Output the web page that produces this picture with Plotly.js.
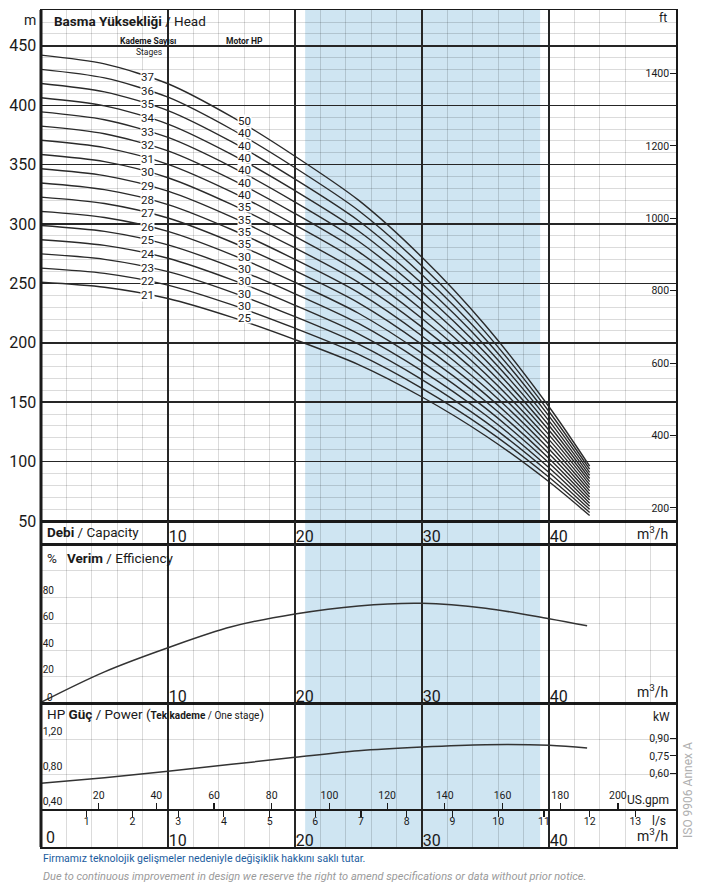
<!DOCTYPE html>
<html><head><meta charset="utf-8">
<script src="https://cdn.plot.ly/plotly-3.0.1.min.js"></script>
<style>html,body{margin:0;padding:0;background:#fff}#chart{width:703px;height:890px}</style>
</head><body><div id="chart"></div>
<script>
// ---- data ----
const flow = [0, 5, 10, 15, 20, 25, 30, 35, 40, 43.2];           // m3/h
const head37 = [442.2, 434.8, 418.1, 390.4, 357.1, 320.1, 272.0, 214.6, 146.2, 96.2];
const head36 = [430.2, 423.0, 406.8, 379.8, 347.4, 311.4, 264.6, 208.8, 142.2, 93.6];
const head35 = [418.3, 411.3, 395.5, 369.3, 337.8, 302.8, 257.3, 203.0, 138.3, 91.0];
const head34 = [406.3, 399.5, 384.2, 358.7, 328.1, 294.1, 249.9, 197.2, 134.3, 88.4];
const head33 = [394.4, 387.8, 372.9, 348.2, 318.5, 285.5, 242.6, 191.4, 130.4, 85.8];
const head32 = [382.4, 376.0, 361.6, 337.6, 308.8, 276.8, 235.2, 185.6, 126.4, 83.2];
const head31 = [370.5, 364.3, 350.3, 327.1, 299.2, 268.2, 227.9, 179.8, 122.5, 80.6];
const head30 = [358.5, 352.5, 339.0, 316.5, 289.5, 259.5, 220.5, 174.0, 118.5, 78.0];
const head29 = [346.6, 340.8, 327.7, 306.0, 279.9, 250.9, 213.2, 168.2, 114.6, 75.4];
const head28 = [334.6, 329.0, 316.4, 295.4, 270.2, 242.2, 205.8, 162.4, 110.6, 72.8];
const head27 = [322.7, 317.3, 305.1, 284.9, 260.6, 233.6, 198.5, 156.6, 106.7, 70.2];
const head26 = [310.7, 305.5, 293.8, 274.3, 250.9, 224.9, 191.1, 150.8, 102.7, 67.6];
const head25 = [298.8, 293.8, 282.5, 263.8, 241.3, 216.3, 183.8, 145.0, 98.8, 65.0];
const head24 = [286.8, 282.0, 271.2, 253.2, 231.6, 207.6, 176.4, 139.2, 94.8, 62.4];
const head23 = [274.9, 270.3, 259.9, 242.7, 222.0, 199.0, 169.1, 133.4, 90.9, 59.8];
const head22 = [262.9, 258.5, 248.6, 232.1, 212.3, 190.3, 161.7, 127.6, 86.9, 57.2];
const head21 = [251.0, 246.8, 237.3, 221.6, 202.7, 181.7, 154.4, 121.8, 83.0, 54.6];
const headCurves = [head37, head36, head35, head34, head33, head32, head31, head30, head29,
                    head28, head27, head26, head25, head24, head23, head22, head21];
const stages = [37, 36, 35, 34, 33, 32, 31, 30, 29, 28, 27, 26, 25, 24, 23, 22, 21];
const motorHP = [50, 40, 40, 40, 40, 40, 40, 35, 35, 35, 35, 30, 30, 30, 30, 30, 25];

const effFlow = [0, 5, 10, 15, 20, 25, 30, 35, 40, 43];
const efficiency = [0.5, 23.5, 41.7, 57.5, 67.2, 73.3, 75.2, 71.5, 63.6, 58.3];   // %

const powFlow = [0, 5, 10, 15, 20, 25, 30, 35, 40, 43];
const powerHP = [0.694, 0.758, 0.83, 0.91, 0.991, 1.066, 1.109, 1.135, 1.128, 1.097]; // HP, one stage

const headTicks = [50, 100, 150, 200, 250, 300, 350, 400, 450];
const ftTicks = [200, 400, 600, 800, 1000, 1200, 1400];
const effTicks = [0, 20, 40, 60, 80, 100];
const effLabels = ['', '20', '40', '60', '80', ''];
const hpTicks = [0.4, 0.8, 1.2];
const hpLabels = ['0,40', '0,80', '1,20'];
const kwTicks = [0.6, 0.75, 0.9];
const kwLabels = ['0,60', '0,75', '0,90'];
const gpmTicks = [20, 40, 60, 80, 100, 120, 140, 160, 180, 200];
const lsTicks = [1, 2, 3, 4, 5, 6, 7, 8, 9, 10, 11, 12, 13];
const m3Ticks = [10, 20, 30, 40];
const shadeFrom = 20.8, shadeTo = 39.3;   // m3/h

// ---- styling ----
const FONT = 'Roboto, Liberation Sans, sans-serif';
const BLACK = '#1a1a1a';
const MAJOR = '#262626';
const MINOR = 'rgba(0,0,0,0.14)';
const QMAX = 50;
const M_PER_FT = 0.3048, KW_PER_HP = 0.7457, GPM_PER_M3H = 4.402868, M3H_PER_LS = 3.6;

const headRange = [50, 480.2];
const effRange = [0, 120];
const hpRange = [-0.0343, 1.6114];

function interp(xs, ys, x) {
  for (let i = 0; i < xs.length - 1; i++) {
    if (x >= xs[i] && x <= xs[i + 1]) {
      const t = (x - xs[i]) / (xs[i + 1] - xs[i]);
      return ys[i] + t * (ys[i + 1] - ys[i]);
    }
  }
  return ys[ys.length - 1];
}

const lineStyle = {color: '#2a2a2a', width: 1.4, shape: 'spline', smoothing: 0.8};
const traces = [];
headCurves.forEach((ys, i) => traces.push({
  type: 'scatter', mode: 'lines', x: flow, y: ys, xaxis: 'x', yaxis: 'y',
  name: stages[i] + ' stages', line: lineStyle, hoverinfo: 'skip', showlegend: false
}));
traces.push({type: 'scatter', mode: 'lines', x: effFlow, y: efficiency, xaxis: 'x3', yaxis: 'y4',
  line: {color: '#333', width: 1.5, shape: 'spline', smoothing: 1}, hoverinfo: 'skip', showlegend: false});
traces.push({type: 'scatter', mode: 'lines', x: powFlow, y: powerHP, xaxis: 'x4', yaxis: 'y5',
  line: {color: '#333', width: 1.5, shape: 'spline', smoothing: 1}, hoverinfo: 'skip', showlegend: false});
[['x', 'y2'], ['x2', 'y3'], ['x4', 'y6'], ['x5', 'y5'], ['x6', 'y5']].forEach(p => traces.push({
  type: 'scatter', mode: 'lines', x: [], y: [], xaxis: p[0], yaxis: p[1], hoverinfo: 'skip', showlegend: false}));

function xGrid(extra) {
  return Object.assign({
    range: [0, QMAX], tickmode: 'array', tickvals: m3Ticks, showgrid: true, gridcolor: MAJOR, gridwidth: 1.5,
    minor: {tickmode: 'linear', tick0: 0, dtick: 2, showgrid: true, gridcolor: MINOR, gridwidth: 1},
    showline: true, mirror: true, linecolor: BLACK, linewidth: 1.5, zeroline: false, ticks: '',
    fixedrange: true, tickfont: {size: 16, color: BLACK}, ticklabelposition: 'inside right',
    ticklabelstandoff: -5
  }, extra);
}
function yBase(extra) {
  return Object.assign({
    showline: true, mirror: true, linecolor: BLACK, linewidth: 1.5, zeroline: false, ticks: '',
    fixedrange: true
  }, extra);
}

const H = 837, BOT = 847;
const py = v => (BOT - v) / H;

const layout = {
  width: 703, height: 890,
  margin: {l: 41, r: 27, t: 10, b: 43, pad: 0},
  paper_bgcolor: '#fff', plot_bgcolor: 'rgba(0,0,0,0)',
  font: {family: FONT, color: BLACK},
  showlegend: false,
  xaxis: xGrid({anchor: 'y', showticklabels: false}),
  xaxis2: xGrid({anchor: 'y3', ticklabelstandoff: -4}),
  xaxis3: xGrid({anchor: 'y4'}),
  xaxis4: xGrid({anchor: 'y5'}),
  xaxis5: {overlaying: 'x4', anchor: 'free', position: py(809), side: 'top',
    range: [0, QMAX * GPM_PER_M3H], tickmode: 'array', tickvals: gpmTicks, ticks: 'outside', ticklen: 6,
    tickcolor: BLACK, tickwidth: 1.2, showline: true, linecolor: BLACK, linewidth: 1.5, showgrid: false,
    zeroline: false, tickfont: {size: 10.5, color: BLACK}, fixedrange: true},
  xaxis6: {overlaying: 'x4', anchor: 'free', position: py(809), side: 'bottom',
    range: [0, QMAX / M3H_PER_LS], tickmode: 'array', tickvals: lsTicks, ticks: 'outside', ticklen: 7,
    tickcolor: BLACK, tickwidth: 1.2, showline: false, showgrid: false, zeroline: false,
    ticklabelstandoff: -5, tickfont: {size: 10.5, color: BLACK}, fixedrange: true},
  yaxis: yBase({anchor: 'x', domain: [py(521), 1], range: headRange, tickmode: 'array', tickvals: headTicks,
    showgrid: true, gridcolor: MAJOR, gridwidth: 1.5,
    minor: {tickmode: 'linear', tick0: 0, dtick: 10, showgrid: true, gridcolor: MINOR, gridwidth: 1},
    tickfont: {size: 16, color: BLACK}}),
  yaxis2: {overlaying: 'y', anchor: 'x', side: 'right',
    range: [headRange[0] / M_PER_FT, headRange[1] / M_PER_FT], tickmode: 'array', tickvals: ftTicks,
    ticks: 'inside', ticklen: 6, tickcolor: BLACK, ticklabelposition: 'inside', showgrid: false,
    showline: false, zeroline: false, tickfont: {size: 10.5, color: BLACK}, fixedrange: true},
  yaxis3: yBase({anchor: 'x2', domain: [py(544), py(521)], range: [0, 1], showgrid: false, showticklabels: false}),
  yaxis4: yBase({anchor: 'x3', domain: [py(703), py(544)], range: effRange, tickmode: 'array',
    tickvals: effTicks, ticktext: effLabels, showgrid: true, gridcolor: MINOR, gridwidth: 1,
    ticklabelposition: 'inside top', tickfont: {size: 10, color: BLACK}}),
  yaxis5: yBase({anchor: 'x4', domain: [0, py(703)], range: hpRange, tickmode: 'array',
    tickvals: hpTicks, ticktext: hpLabels, showgrid: true, gridcolor: MINOR, gridwidth: 1,
    ticklabelposition: 'inside top', tickfont: {size: 10.5, color: BLACK}}),
  yaxis6: {overlaying: 'y5', anchor: 'x4', side: 'right',
    range: [hpRange[0] * KW_PER_HP, hpRange[1] * KW_PER_HP], tickmode: 'array', tickvals: kwTicks,
    ticktext: kwLabels, ticks: 'inside', ticklen: 6, tickcolor: BLACK, ticklabelposition: 'inside',
    showgrid: false, showline: false, zeroline: false, tickfont: {size: 10.5, color: BLACK}, fixedrange: true},
  shapes: [
    {type: 'rect', xref: 'x', yref: 'paper', x0: shadeFrom, x1: shadeTo, y0: 0, y1: 1,
     fillcolor: '#cfe5f2', line: {width: 0}, layer: 'below'},
    {type: 'line', xref: 'paper', yref: 'paper', x0: 0, x1: 0, y0: 0, y1: 1,
     line: {color: BLACK, width: 3}, layer: 'above'}
  ],
  annotations: []
};

const A = layout.annotations;
function txt(o) { A.push(Object.assign({showarrow: false, xanchor: 'center', yanchor: 'middle',
  font: {size: 12, color: BLACK}}, o)); }
const qx = p => (p - 41) / 12.7;
const hy = p => 450 - (p - 46) / 1.188;
const hp = p => 0.4 + (809 - p) / 87.5;
const ef = p => (703 - p) / 1.325;

// stage and motor HP labels on the curves
headCurves.forEach((ys, i) => {
  txt({xref: 'x', yref: 'y', x: 8.35, y: interp(flow, ys, 8.35), text: String(stages[i]),
       bgcolor: '#fff', borderpad: 0, height: 12, font: {size: 11.5, color: BLACK}});
  txt({xref: 'x', yref: 'y', x: 16.0, y: interp(flow, ys, 16.0), yshift: 4, text: String(motorHP[i]),
       bgcolor: '#fff', borderpad: 0, height: 11, font: {size: 11.5, color: BLACK}});
});

// head panel captions
txt({xref: 'paper', yref: 'y', x: (30 - 41) / 635, y: hy(20), text: 'm', font: {size: 14, color: BLACK}});
txt({xref: 'x', yref: 'y', x: qx(52), y: hy(21), xanchor: 'left', text: '<b>Basma Yüksekliği</b> / Head', font: {size: 13.5, color: BLACK}});
txt({xref: 'x', yref: 'y', x: qx(148), y: hy(41), text: '<b>Kademe Sayısı</b>', font: {size: 8.5, color: BLACK}});
txt({xref: 'x', yref: 'y', x: qx(149), y: hy(52), text: 'Stages', font: {size: 8.5, color: BLACK}});
txt({xref: 'x', yref: 'y', x: qx(244), y: hy(41), text: '<b>Motor HP</b>', font: {size: 8.5, color: BLACK}});
txt({xref: 'x', yref: 'y', x: qx(663), y: hy(18), text: 'ft', font: {size: 12, color: BLACK}});

// capacity band
txt({xref: 'x2', yref: 'y3', x: 0.3, y: 0.52, xanchor: 'left', text: '<b>Debi</b> / Capacity', font: {size: 13.5, color: BLACK}});
txt({xref: 'x2', yref: 'y3', x: 49.5, y: 0.02, xanchor: 'right', yanchor: 'bottom', text: 'm<sup>3</sup>/h', font: {size: 14, color: BLACK}});

// efficiency panel
txt({xref: 'x3', yref: 'y4', x: 0.3, y: ef(558), xanchor: 'left', text: '%   <b>Verim</b> / Efficiency', font: {size: 13.5, color: BLACK}});
txt({xref: 'x3', yref: 'y4', x: 0.3, y: ef(697), xanchor: 'left', text: '0', font: {size: 10, color: BLACK}});
txt({xref: 'x3', yref: 'y4', x: 49.5, y: ef(702), xanchor: 'right', yanchor: 'bottom', text: 'm<sup>3</sup>/h', font: {size: 14, color: BLACK}});

// power panel
txt({xref: 'x4', yref: 'y5', x: 0.3, y: hp(714), xanchor: 'left',
     text: 'HP <b>Güç</b> / Power (<span style="font-size:10px"><b>Tek kademe</b> / One stage</span>)', font: {size: 13.5, color: BLACK}});
txt({xref: 'x4', yref: 'y5', x: qx(661), y: hp(717), text: 'kW', font: {size: 12, color: BLACK}});
txt({xref: 'x4', yref: 'y5', x: 49.6, y: hp(800), xanchor: 'right', text: 'US.gpm', font: {size: 12, color: BLACK}});
txt({xref: 'x4', yref: 'y5', x: 49.4, y: hp(821), xanchor: 'right', text: 'l/s', font: {size: 12, color: BLACK}});
txt({xref: 'x4', yref: 'y5', x: 0.25, y: hp(838), xanchor: 'left', text: '0', font: {size: 16, color: BLACK}});
txt({xref: 'x4', yref: 'y5', x: 49.5, y: hp(846), xanchor: 'right', yanchor: 'bottom', text: 'm<sup>3</sup>/h', font: {size: 14, color: BLACK}});

// side note and footer
txt({xref: 'paper', yref: 'paper', x: (688 - 41) / 635, y: py(790), textangle: -90, text: 'ISO 9906 Annex A', font: {size: 12, color: '#b0b0b0'}});
txt({xref: 'paper', yref: 'paper', x: 0, y: py(859), xanchor: 'left', text: 'Firmamız teknolojik gelişmeler nedeniyle değişiklik hakkını saklı tutar.', font: {size: 10.5, color: '#1b5c9e'}});
txt({xref: 'paper', yref: 'paper', x: 0, y: py(876), xanchor: 'left', text: '<i>Due to continuous improvement in design we reserve the right to amend specifications or data without prior notice.</i>', font: {size: 11, color: '#9a9a9a'}});

Plotly.newPlot('chart', traces, layout, {staticPlot: true, displayModeBar: false});
</script></body></html>
